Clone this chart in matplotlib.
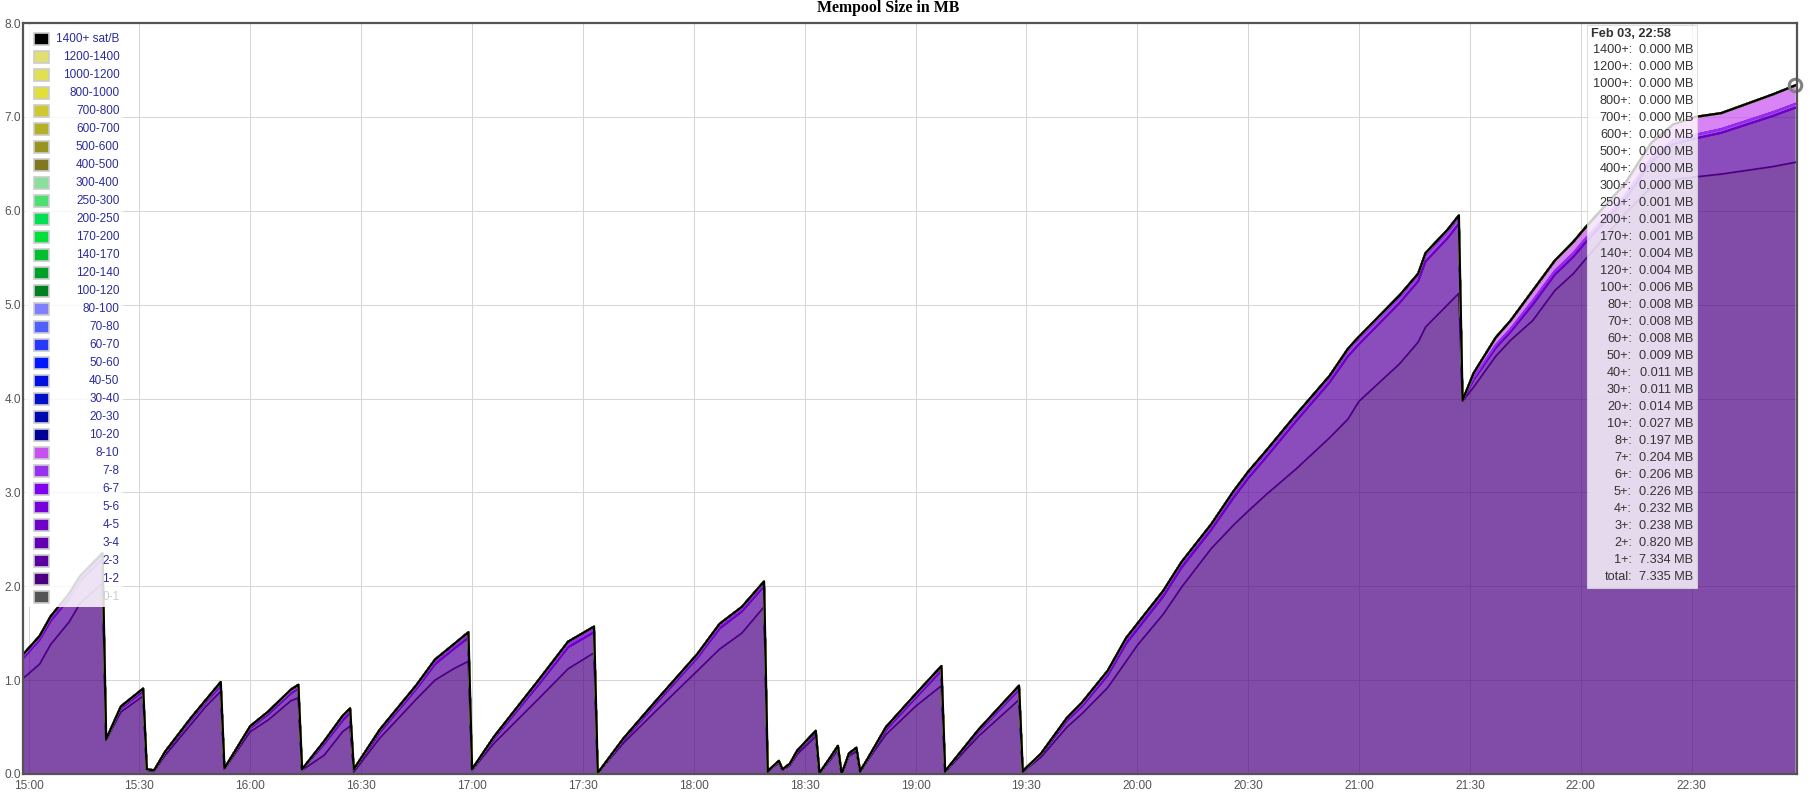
import matplotlib
matplotlib.use("Agg")
import matplotlib.pyplot as plt
import matplotlib.dates as mdates
from matplotlib.patches import Rectangle
from matplotlib.ticker import FixedLocator
import numpy as np
import pandas as pd

plt.rcParams["font.family"] = ["Liberation Sans", "DejaVu Sans"]

# sample times (Feb 03) and cumulative heights of the main layer boundaries, MB
times = [
    "14:58", "15:03", "15:06", "15:11", "15:14", "15:20", "15:21", "15:25",
    "15:31", "15:32", "15:34", "15:37", "15:44", "15:48", "15:52", "15:53",
    "16:00", "16:05", "16:11", "16:13", "16:14", "16:20", "16:25", "16:27",
    "16:28", "16:35", "16:45", "16:50", "16:55", "16:59", "17:00", "17:06",
    "17:18", "17:26", "17:33", "17:34", "17:41", "17:50", "18:01", "18:07",
    "18:13", "18:19", "18:20", "18:23", "18:24", "18:26", "18:28", "18:33",
    "18:34", "18:37", "18:39", "18:40", "18:42", "18:44", "18:45", "18:47",
    "18:52", "19:00", "19:07", "19:08", "19:17", "19:28", "19:29", "19:34",
    "19:41", "19:45", "19:52", "19:57", "20:00", "20:07", "20:12", "20:20",
    "20:26", "20:30", "20:35", "20:43", "20:52", "20:57", "21:00", "21:11",
    "21:16", "21:18", "21:24", "21:27", "21:28", "21:31", "21:37", "21:41",
    "21:47", "21:53", "21:58", "22:01", "22:12", "22:19", "22:25", "22:31",
    "22:38", "22:52", "22:58",
]
mb_total = [
    1.25, 1.47, 1.68, 1.92, 2.11, 2.35, 0.37, 0.72,
    0.91, 0.05, 0.04, 0.24, 0.60, 0.79, 0.98, 0.06,
    0.51, 0.67, 0.90, 0.95, 0.05, 0.35, 0.62, 0.70,
    0.05, 0.47, 0.95, 1.22, 1.38, 1.51, 0.05, 0.40,
    1.00, 1.41, 1.57, 0.01, 0.38, 0.79, 1.28, 1.60,
    1.78, 2.05, 0.03, 0.14, 0.05, 0.11, 0.25, 0.46,
    0.01, 0.18, 0.30, 0.00, 0.22, 0.28, 0.03, 0.16,
    0.50, 0.85, 1.15, 0.03, 0.47, 0.94, 0.03, 0.22,
    0.60, 0.76, 1.10, 1.45, 1.60, 1.95, 2.26, 2.66,
    3.01, 3.22, 3.45, 3.83, 4.24, 4.53, 4.66, 5.10,
    5.33, 5.55, 5.80, 5.95, 3.98, 4.27, 4.65, 4.83,
    5.15, 5.47, 5.67, 5.81, 6.29, 6.72, 6.92, 7.00,
    7.04, 7.24, 7.335,
]
mb_top_1_2 = [
    1.00, 1.17, 1.38, 1.62, 1.82, 2.03, 0.36, 0.66,
    0.83, 0.04, 0.03, 0.20, 0.53, 0.72, 0.88, 0.05,
    0.45, 0.58, 0.78, 0.81, 0.04, 0.20, 0.45, 0.51,
    0.02, 0.38, 0.80, 1.00, 1.12, 1.20, 0.04, 0.33,
    0.80, 1.12, 1.29, 0.01, 0.33, 0.68, 1.10, 1.33,
    1.50, 1.78, 0.02, 0.12, 0.04, 0.09, 0.21, 0.40,
    0.01, 0.15, 0.26, 0.00, 0.19, 0.24, 0.02, 0.14,
    0.42, 0.72, 0.94, 0.02, 0.40, 0.79, 0.02, 0.18,
    0.50, 0.64, 0.92, 1.20, 1.37, 1.70, 1.99, 2.40,
    2.65, 2.80, 2.98, 3.25, 3.58, 3.78, 3.97, 4.37,
    4.60, 4.76, 5.00, 5.12, 3.97, 4.12, 4.45, 4.62,
    4.83, 5.15, 5.33, 5.47, 5.97, 6.25, 6.33, 6.36,
    6.39, 6.47, 6.515,
]
mb_top_2_3 = [
    1.21, 1.43, 1.63, 1.87, 2.06, 2.29, 0.37, 0.70,
    0.88, 0.05, 0.04, 0.23, 0.58, 0.77, 0.94, 0.06,
    0.49, 0.64, 0.86, 0.91, 0.05, 0.32, 0.57, 0.65,
    0.04, 0.44, 0.91, 1.17, 1.33, 1.45, 0.05, 0.38,
    0.95, 1.35, 1.51, 0.01, 0.36, 0.76, 1.24, 1.55,
    1.73, 2.00, 0.03, 0.13, 0.05, 0.10, 0.24, 0.44,
    0.01, 0.17, 0.29, 0.00, 0.21, 0.27, 0.03, 0.15,
    0.47, 0.81, 1.10, 0.03, 0.45, 0.90, 0.03, 0.21,
    0.57, 0.72, 1.05, 1.39, 1.54, 1.89, 2.20, 2.60,
    2.94, 3.15, 3.38, 3.76, 4.17, 4.45, 4.58, 5.02,
    5.25, 5.46, 5.71, 5.86, 3.98, 4.20, 4.54, 4.71,
    5.00, 5.32, 5.51, 5.65, 6.12, 6.52, 6.71, 6.77,
    6.83, 7.01, 7.097,
]
mb_top_7_8 = [
    1.23, 1.45, 1.66, 1.90, 2.09, 2.32, 0.37, 0.71,
    0.90, 0.05, 0.04, 0.24, 0.59, 0.78, 0.96, 0.06,
    0.50, 0.66, 0.88, 0.93, 0.05, 0.34, 0.60, 0.68,
    0.05, 0.46, 0.93, 1.20, 1.36, 1.48, 0.05, 0.39,
    0.98, 1.38, 1.54, 0.01, 0.37, 0.78, 1.26, 1.58,
    1.76, 2.03, 0.03, 0.14, 0.05, 0.11, 0.25, 0.45,
    0.01, 0.18, 0.30, 0.00, 0.22, 0.28, 0.03, 0.16,
    0.49, 0.83, 1.13, 0.03, 0.46, 0.92, 0.03, 0.22,
    0.59, 0.74, 1.08, 1.43, 1.58, 1.93, 2.24, 2.64,
    2.99, 3.20, 3.43, 3.81, 4.22, 4.51, 4.64, 5.08,
    5.31, 5.53, 5.78, 5.93, 3.98, 4.22, 4.57, 4.74,
    5.04, 5.36, 5.55, 5.69, 6.16, 6.56, 6.75, 6.81,
    6.87, 7.05, 7.138,
]

# legend, top to bottom
fee_labels = [
    "1400+ sat/B", "1200-1400", "1000-1200", "800-1000", "700-800", "600-700",
    "500-600", "400-500", "300-400", "250-300", "200-250", "170-200",
    "140-170", "120-140", "100-120", "80-100", "70-80", "60-70", "50-60",
    "40-50", "30-40", "20-30", "10-20", "8-10", "7-8", "6-7", "5-6", "4-5",
    "3-4", "2-3", "1-2", "0-1",
]
fee_colors = [
    "#000000", "#e0e070", "#e0e050", "#e0e038", "#d0c830", "#b4b028",
    "#989420", "#807820", "#88e09c", "#4ce070", "#00e050", "#00e038",
    "#00c030", "#00a028", "#008020", "#8080ff", "#5060ff", "#2838ff", "#0018ff",
    "#0010e0", "#0010c8", "#0008b0", "#000098", "#c850f0", "#9830f0", "#8000f0",
    "#7800dc", "#6e00c8", "#6400b4", "#5a00a0", "#4b0082", "#555555",
]

# hover box at the last sample
tip_time = "Feb 03, 22:58"
tip_labels = [
    "1400+:", "1200+:", "1000+:", "800+:", "700+:", "600+:", "500+:", "400+:",
    "300+:", "250+:", "200+:", "170+:", "140+:", "120+:", "100+:", "80+:",
    "70+:", "60+:", "50+:", "40+:", "30+:", "20+:", "10+:", "8+:", "7+:",
    "6+:", "5+:", "4+:", "3+:", "2+:", "1+:", "total:",
]
tip_values = [
    "0.000", "0.000", "0.000", "0.000", "0.000", "0.000", "0.000", "0.000",
    "0.000", "0.001", "0.001", "0.001", "0.004", "0.004", "0.006", "0.008",
    "0.008", "0.008", "0.009", "0.011", "0.011", "0.014", "0.027", "0.197",
    "0.204", "0.206", "0.226", "0.232", "0.238", "0.820", "7.334", "7.335",
]

W, H = 1819, 798
fig = plt.figure(figsize=(W / 100, H / 100), dpi=100)


def fx(px):
    return px / W


def fy(py):
    return 1 - py / H


ax = fig.add_axes([fx(23), fy(774), fx(1797) - fx(23), fy(23) - fy(774)])

t = mdates.date2num(pd.to_datetime(["2018-02-03 " + s for s in times]).to_pydatetime())
total = np.array(mb_total)
top12 = np.array(mb_top_1_2)
top23 = np.array(mb_top_2_3)
top78 = np.array(mb_top_7_8)

layers = {lab: np.zeros(len(t)) for lab in fee_labels}
layers["1-2"] = top12
layers["2-3"] = top23 - top12
layers["5-6"] = top78 - top23
layers["8-10"] = total - top78

bottom = np.zeros(len(t))
for lab, col in zip(fee_labels[-2::-1], fee_colors[-2::-1]):
    top = bottom + layers[lab]
    if layers[lab].any():
        ax.fill_between(t, bottom, top, color=col, alpha=0.7, lw=0, zorder=2)
    ax.plot(t, top, color=col, lw=1.7 if col == "#000000" else 1.3, zorder=3)
    bottom = top

ax.plot(t[-1], total[-1], marker="o", ms=9, mfc="none", mec="#808080",
        mew=2.2, clip_on=False, zorder=6)

ax.set_xlim(mdates.date2num(pd.Timestamp("2018-02-03 14:58:30")),
            mdates.date2num(pd.Timestamp("2018-02-03 22:58:30")))
ax.set_ylim(0, 8)
ax.xaxis.set_major_locator(mdates.MinuteLocator(byminute=[0, 30]))
ax.xaxis.set_major_formatter(mdates.DateFormatter("%H:%M"))
ax.yaxis.set_major_locator(FixedLocator(np.arange(0, 9)))
ax.yaxis.set_major_formatter(lambda v, p: f"{v:.1f}")
ax.tick_params(length=0, labelsize=8.6, labelcolor="#545454")
ax.tick_params(axis="x", pad=4)
ax.tick_params(axis="y", pad=1.5)
ax.grid(True, color="#d6d6d6", lw=0.75)
ax.set_axisbelow(True)
for s in ax.spines.values():
    s.set_color("#545454")
    s.set_linewidth(1.6)
    s.set_zorder(7)

fig.text(fx(888), fy(8), "Mempool Size in MB", ha="center", va="center",
         fontsize=11.4, fontweight="bold", family="Liberation Serif")

# legend in the upper left corner
fig.add_artist(Rectangle((fx(25), fy(607)), fx(123) - fx(25), fy(25) - fy(607),
                         transform=fig.transFigure, facecolor="white",
                         edgecolor="none", alpha=0.85, zorder=4))
for i, (lab, col) in enumerate(zip(fee_labels, fee_colors)):
    yc = 39 + 18 * i
    fig.add_artist(Rectangle((fx(34), fy(yc + 6)), fx(15), fy(0) - fy(12),
                             transform=fig.transFigure, facecolor=col,
                             edgecolor="#cccccc", lw=1.2, zorder=5))
    fig.text(fx(119.5), fy(yc), lab, ha="right", va="center", fontsize=8.5,
             color="#cccccc" if lab == "0-1" else "#2b2b9c", zorder=5)

# hover box
fig.add_artist(Rectangle((fx(1587), fy(588)), fx(110), fy(25) - fy(588),
                         transform=fig.transFigure, facecolor="white",
                         edgecolor="#d8d8d8", lw=0.8, alpha=0.8, zorder=4))
fig.text(fx(1591), fy(34), tip_time, ha="left", va="center", fontsize=9.2,
         fontweight="bold", color="#333333", zorder=5)
for i, (lab, val) in enumerate(zip(tip_labels, tip_values)):
    yc = 50 + 17 * i
    fig.text(fx(1632), fy(yc), lab, ha="right", va="center", fontsize=9.2,
             color="#333333", zorder=5)
    fig.text(fx(1693), fy(yc), f"{val} MB", ha="right", va="center",
             fontsize=9.2, color="#333333", zorder=5)

fig.savefig("out.png", dpi=100, facecolor="white")
